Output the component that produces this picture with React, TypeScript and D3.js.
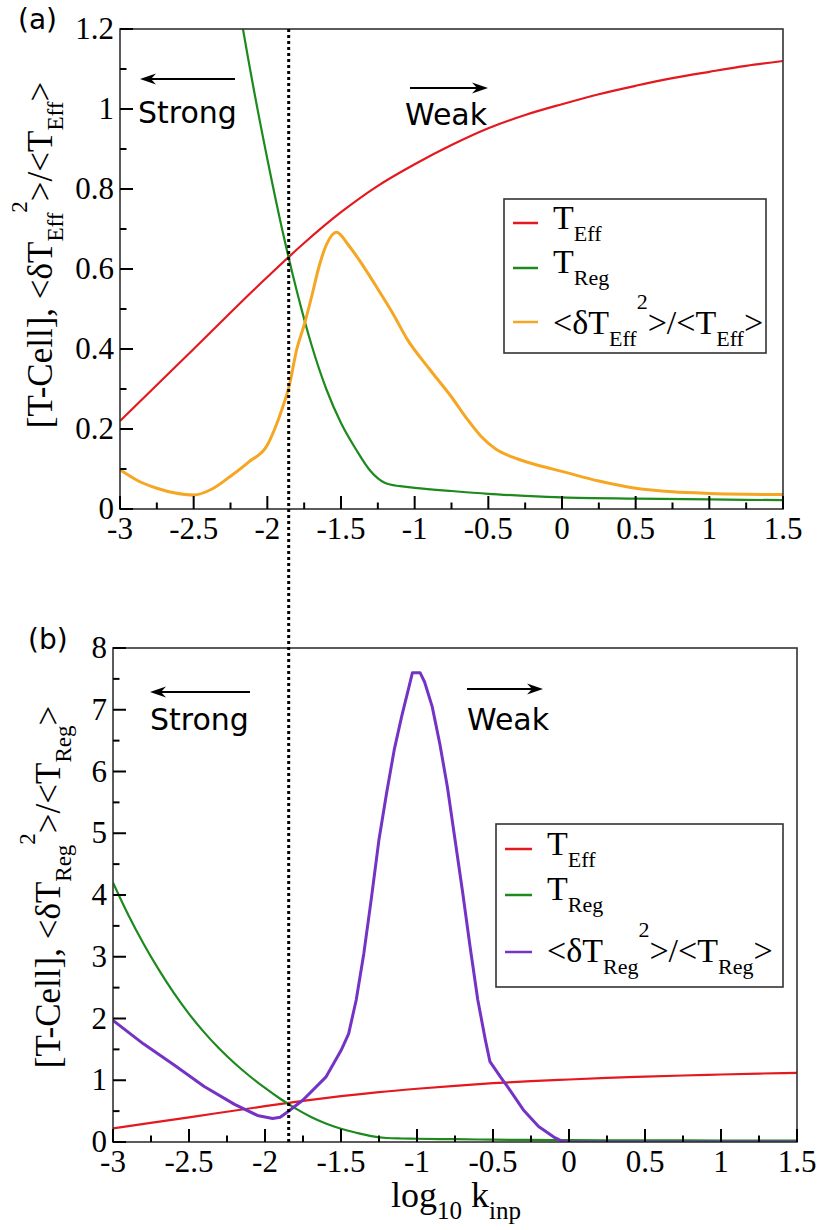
import React from "react";
import * as d3 from "d3";

// ---------- data ----------
const xTicks = [-3, -2.5, -2, -1.5, -1, -0.5, 0, 0.5, 1, 1.5];
const xTickLabels = ["-3", "-2.5", "-2", "-1.5", "-1", "-0.5", "0", "0.5", "1", "1.5"];
const xMinorTicks = [-2.75, -2.25, -1.75, -1.25, -0.75, -0.25, 0.25, 0.75, 1.25];

const yTicksA = [0, 0.2, 0.4, 0.6, 0.8, 1, 1.2];
const yTickLabelsA = ["0", "0.2", "0.4", "0.6", "0.8", "1", "1.2"];
const yMinorA = [0.1, 0.3, 0.5, 0.7, 0.9, 1.1];

const yTicksB = [0, 1, 2, 3, 4, 5, 6, 7, 8];
const yTickLabelsB = ["0", "1", "2", "3", "4", "5", "6", "7", "8"];
const yMinorB = [0.5, 1.5, 2.5, 3.5, 4.5, 5.5, 6.5, 7.5];

const thresholdLogK = -1.855;

const tEffX = [-3, -2.5, -2, -1.75, -1.5, -1.25, -1, -0.75, -0.5, -0.25, 0, 0.25, 0.5, 0.75, 1, 1.25, 1.5];
const tEffY = [0.22, 0.4, 0.58, 0.665, 0.742, 0.808, 0.862, 0.91, 0.952, 0.985, 1.012, 1.037, 1.058, 1.077, 1.093, 1.108, 1.12];

const tRegX = [-3, -2.9, -2.8, -2.7, -2.6, -2.5, -2.4, -2.3, -2.2, -2.1, -2.0, -1.9, -1.8, -1.7, -1.6, -1.5, -1.4, -1.3, -1.2, -1.1, -1.0, -0.75, -0.5, -0.25, 0, 0.5, 1, 1.5];
const tRegY = [4.2, 3.68, 3.215, 2.795, 2.415, 2.075, 1.775, 1.51, 1.275, 1.065, 0.875, 0.7, 0.545, 0.41, 0.3, 0.215, 0.15, 0.095, 0.065, 0.057, 0.053, 0.045, 0.038, 0.033, 0.029, 0.026, 0.024, 0.022];

const fanoEffX = [-3, -2.875, -2.75, -2.625, -2.5, -2.375, -2.25, -2.125, -2.0, -1.95, -1.9, -1.85, -1.8, -1.75, -1.7, -1.65, -1.6, -1.53, -1.45, -1.35, -1.25, -1.15, -1.05, -0.9, -0.75, -0.65, -0.55, -0.45, -0.3, -0.15, 0, 0.25, 0.5, 0.75, 1.0, 1.25, 1.5];
const fanoEffY = [0.098, 0.07, 0.052, 0.04, 0.035, 0.05, 0.082, 0.118, 0.16, 0.2, 0.25, 0.31, 0.4, 0.46, 0.53, 0.605, 0.66, 0.692, 0.66, 0.608, 0.55, 0.49, 0.424, 0.35, 0.28, 0.228, 0.182, 0.15, 0.125, 0.108, 0.094, 0.07, 0.052, 0.043, 0.039, 0.037, 0.036];

const fanoRegX = [-3, -2.8, -2.6, -2.4, -2.2, -2.05, -1.95, -1.9, -1.85, -1.75, -1.6, -1.5, -1.45, -1.4, -1.35, -1.3, -1.25, -1.2, -1.15, -1.1, -1.05, -1.03, -0.98, -0.95, -0.9, -0.85, -0.8, -0.75, -0.7, -0.65, -0.6, -0.55, -0.52, -0.45, -0.4, -0.3, -0.2, -0.1, -0.05, 0, 0.5, 1, 1.5];
const fanoRegY = [1.97, 1.59, 1.25, 0.9, 0.61, 0.43, 0.38, 0.4, 0.49, 0.68, 1.05, 1.48, 1.75, 2.3, 3.05, 3.95, 4.9, 5.65, 6.35, 6.9, 7.4, 7.6, 7.6, 7.45, 7.05, 6.45, 5.75, 4.9, 4.05, 3.15, 2.3, 1.65, 1.3, 1.05, 0.88, 0.52, 0.25, 0.08, 0.02, 0, 0, 0, 0];

const RED = "#e3191f";
const GREEN = "#1d8a1d";
const ORANGE = "#f5a623";
const PURPLE = "#7433c4";

type Seg = { t: string; k?: "sub" | "sup" };

const legendA: { color: string; segs: Seg[] }[] = [
  { color: RED, segs: [{ t: "T" }, { t: "Eff", k: "sub" }] },
  { color: GREEN, segs: [{ t: "T" }, { t: "Reg", k: "sub" }] },
  { color: ORANGE, segs: [{ t: "<δT" }, { t: "Eff", k: "sub" }, { t: "2", k: "sup" }, { t: ">/<T" }, { t: "Eff", k: "sub" }, { t: ">" }] },
];
const legendB: { color: string; segs: Seg[] }[] = [
  { color: RED, segs: [{ t: "T" }, { t: "Eff", k: "sub" }] },
  { color: GREEN, segs: [{ t: "T" }, { t: "Reg", k: "sub" }] },
  { color: PURPLE, segs: [{ t: "<δT" }, { t: "Reg", k: "sub" }, { t: "2", k: "sup" }, { t: ">/<T" }, { t: "Reg", k: "sub" }, { t: ">" }] },
];
const yLabelA: Seg[] = [{ t: "[T-Cell], <δT" }, { t: "Eff", k: "sub" }, { t: "2", k: "sup" }, { t: ">/<T" }, { t: "Eff", k: "sub" }, { t: ">" }];
const yLabelB: Seg[] = [{ t: "[T-Cell], <δT" }, { t: "Reg", k: "sub" }, { t: "2", k: "sup" }, { t: ">/<T" }, { t: "Reg", k: "sub" }, { t: ">" }];
const xLabel: Seg[] = [{ t: "log" }, { t: "10", k: "sub" }, { t: " k" }, { t: "inp", k: "sub" }];

const SERIF = "'Liberation Serif', 'Times New Roman', serif";
const SANS = "'DejaVu Sans', sans-serif";

function Rich({ segs, size, subSize, subShift, supShift, ...rest }: any) {
  let cur = 0;
  return (
    <text fontFamily={SERIF} fontSize={size} fill="#000" {...rest}>
      {segs.map((s: Seg, i: number) => {
        const target = s.k === "sub" ? subShift : s.k === "sup" ? -supShift : 0;
        const dy = target - cur;
        cur = target;
        return (
          <tspan key={i} dy={dy} fontSize={s.k ? subSize : size}>
            {s.t}
          </tspan>
        );
      })}
    </text>
  );
}

function Arrow({ x1, x2, y }: { x1: number; x2: number; y: number }) {
  const dir = x2 > x1 ? 1 : -1;
  const head = `M${x2},${y} L${x2 - dir * 16},${y - 5.5} L${x2 - dir * 11},${y} L${x2 - dir * 16},${y + 5.5} Z`;
  return (
    <g>
      <line x1={x1} x2={x2 - dir * 11} y1={y} y2={y} stroke="#000" strokeWidth={2} />
      <path d={head} fill="#000" />
    </g>
  );
}

type PanelProps = {
  id: string;
  left: number; right: number; top: number; bottom: number;
  yMax: number; yTicks: number[]; yTickLabels: string[]; yMinor: number[];
  series: { x: number[]; y: number[]; color: string; width: number; curve: any }[];
  legend: { color: string; segs: Seg[] }[];
  legendBox: { x: number; y: number; w: number; h: number };
  legendRows: { ly: number; ty: number }[];
  legendLineX: [number, number];
  legendTextX: number;
};

function Panel(p: PanelProps) {
  const x = d3.scaleLinear().domain([-3, 1.5]).range([p.left, p.right]);
  const y = d3.scaleLinear().domain([0, p.yMax]).range([p.bottom, p.top]);
  const clipId = `clip-${p.id}`;
  return (
    <g>
      <defs>
        <clipPath id={clipId}>
          <rect x={p.left} y={p.top} width={p.right - p.left} height={p.bottom - p.top} />
        </clipPath>
      </defs>
      <g clipPath={`url(#${clipId})`}>
        {p.series.map((s, i) => {
          const pts: [number, number][] = s.x.map((v, j) => [v, s.y[j]]);
          const gen = d3.line<[number, number]>().x((d) => x(d[0])).y((d) => y(d[1])).curve(s.curve);
          return <path key={i} d={gen(pts) || ""} fill="none" stroke={s.color} strokeWidth={s.width} strokeLinejoin="round" />;
        })}
      </g>
      <rect x={p.left} y={p.top} width={p.right - p.left} height={p.bottom - p.top} fill="none" stroke="#333" strokeWidth={1.6} />
      {xTicks.map((t, i) => (
        <g key={"xt" + i}>
          <line x1={x(t)} x2={x(t)} y1={p.bottom} y2={p.bottom - 13} stroke="#000" strokeWidth={2} />
          <text x={x(t)} y={p.bottom + 30} textAnchor="middle" fontFamily={SERIF} fontSize={31}>{xTickLabels[i]}</text>
        </g>
      ))}
      {xMinorTicks.map((t, i) => (
        <line key={"xm" + i} x1={x(t)} x2={x(t)} y1={p.bottom} y2={p.bottom - 6.5} stroke="#000" strokeWidth={2} />
      ))}
      {p.yTicks.map((t, i) => (
        <g key={"yt" + i}>
          <line x1={p.left} x2={p.left + 13} y1={y(t)} y2={y(t)} stroke="#000" strokeWidth={2} />
          <text x={p.left - 6} y={y(t) + 10} textAnchor="end" fontFamily={SERIF} fontSize={31}>{p.yTickLabels[i]}</text>
        </g>
      ))}
      {p.yMinor.map((t, i) => (
        <line key={"ym" + i} x1={p.left} x2={p.left + 6.5} y1={y(t)} y2={y(t)} stroke="#000" strokeWidth={2} />
      ))}
      <rect x={p.legendBox.x} y={p.legendBox.y} width={p.legendBox.w} height={p.legendBox.h} fill="#fff" stroke="#333" strokeWidth={1.6} />
      {p.legend.map((e, i) => (
        <g key={"lg" + i}>
          <line x1={p.legendLineX[0]} x2={p.legendLineX[1]} y1={p.legendRows[i].ly} y2={p.legendRows[i].ly} stroke={e.color} strokeWidth={2.5} />
          <Rich segs={e.segs} size={34} subSize={22} subShift={12} supShift={25} x={p.legendTextX} y={p.legendRows[i].ty} />
        </g>
      ))}
    </g>
  );
}

export default function App() {
  const xA = d3.scaleLinear().domain([-3, 1.5]).range([120, 783]);
  const dotX = xA(thresholdLogK);
  return (
    <svg width={822} height={1230} style={{ position: "absolute", left: 0, top: 0, background: "#fff" }}>
      <rect x={0} y={0} width={822} height={1230} fill="#fff" />
      <Panel
        id="a"
        left={120} right={783} top={29} bottom={509}
        yMax={1.2} yTicks={yTicksA} yTickLabels={yTickLabelsA} yMinor={yMinorA}
        series={[
          { x: tEffX, y: tEffY, color: RED, width: 2.2, curve: d3.curveMonotoneX },
          { x: tRegX, y: tRegY, color: GREEN, width: 2.2, curve: d3.curveMonotoneX },
          { x: fanoEffX, y: fanoEffY, color: ORANGE, width: 3, curve: d3.curveMonotoneX },
        ]}
        legend={legendA}
        legendBox={{ x: 504, y: 199, w: 262, h: 154 }}
        legendRows={[{ ly: 223, ty: 229 }, { ly: 268, ty: 273 }, { ly: 322, ty: 334 }]}
        legendLineX={[513, 538]}
        legendTextX={553}
      />
      <Panel
        id="b"
        left={113} right={797} top={648} bottom={1142}
        yMax={8} yTicks={yTicksB} yTickLabels={yTickLabelsB} yMinor={yMinorB}
        series={[
          { x: tEffX, y: tEffY, color: RED, width: 2.2, curve: d3.curveMonotoneX },
          { x: tRegX, y: tRegY, color: GREEN, width: 2.2, curve: d3.curveMonotoneX },
          { x: fanoRegX, y: fanoRegY, color: PURPLE, width: 3, curve: d3.curveLinear },
        ]}
        legend={legendB}
        legendBox={{ x: 496, y: 824, w: 287, h: 163 }}
        legendRows={[{ ly: 849, ty: 855 }, { ly: 895, ty: 900 }, { ly: 952, ty: 962 }]}
        legendLineX={[505, 532]}
        legendTextX={547}
      />
      <line x1={dotX} x2={dotX} y1={29} y2={1142} stroke="#000" strokeWidth={3} strokeDasharray="3,3" />
      <Arrow x1={235} x2={140} y={79} />
      <text x={138} y={123} fontFamily={SANS} fontSize={30}>Strong</text>
      <Arrow x1={410} x2={488} y={88} />
      <text x={405} y={125} fontFamily={SANS} fontSize={30}>Weak</text>
      <Arrow x1={250} x2={150} y={692} />
      <text x={150} y={730} fontFamily={SANS} fontSize={30}>Strong</text>
      <Arrow x1={467} x2={543} y={689} />
      <text x={467} y={730} fontFamily={SANS} fontSize={30}>Weak</text>
      <text x={18} y={29} fontFamily={SANS} fontSize={28}>(a)</text>
      <text x={28} y={649} fontFamily={SANS} fontSize={28}>(b)</text>
      <Rich segs={yLabelA} size={35} subSize={23} subShift={11} supShift={25} x={0} y={0} textAnchor="middle" transform="translate(52,255) rotate(-90)" />
      <Rich segs={yLabelB} size={35} subSize={23} subShift={11} supShift={25} x={0} y={0} textAnchor="middle" transform="translate(60,887) rotate(-90)" />
      <Rich segs={xLabel} size={36} subSize={25} subShift={12} supShift={20} x={456} y={1207} textAnchor="middle" />
    </svg>
  );
}
